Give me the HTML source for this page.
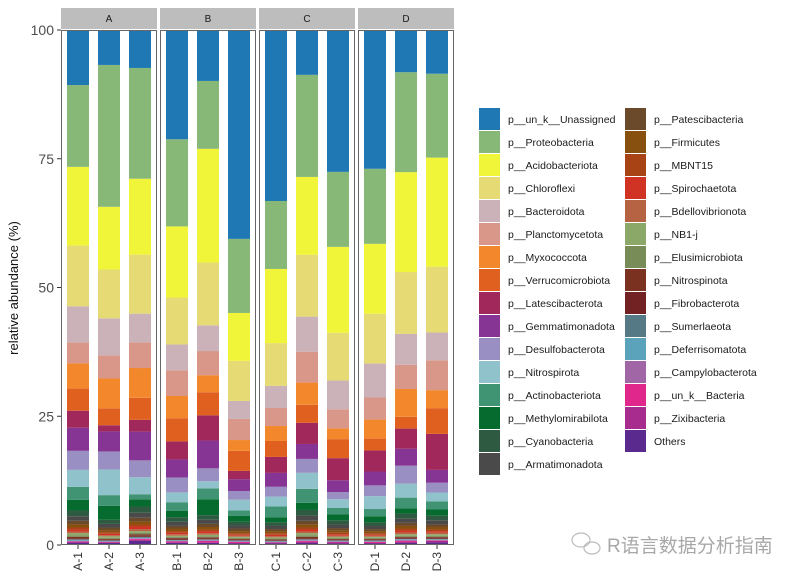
<!DOCTYPE html>
<html><head><meta charset="utf-8"><style>
body{margin:0;background:#fff;}
svg text{font-family:"Liberation Sans","Noto Sans CJK SC",sans-serif;}
</style></head><body>
<svg id="chart" width="804" height="580" xmlns="http://www.w3.org/2000/svg"></svg>
<script>
const samples = ["A-1","A-2","A-3","B-1","B-2","B-3","C-1","C-2","C-3","D-1","D-2","D-3"];
const groups = ["A","B","C","D"];
const yTicks = [0,25,50,75,100];
const phyla = ["p__un_k__Unassigned","p__Proteobacteria","p__Acidobacteriota","p__Chloroflexi","p__Bacteroidota","p__Planctomycetota","p__Myxococcota","p__Verrucomicrobiota","p__Latescibacterota","p__Gemmatimonadota","p__Desulfobacterota","p__Nitrospirota","p__Actinobacteriota","p__Methylomirabilota","p__Cyanobacteria","p__Armatimonadota","p__Patescibacteria","p__Firmicutes","p__MBNT15","p__Spirochaetota","p__Bdellovibrionota","p__NB1-j","p__Elusimicrobiota","p__Nitrospinota","p__Fibrobacterota","p__Sumerlaeota","p__Deferrisomatota","p__Campylobacterota","p__un_k__Bacteria","p__Zixibacteria","Others"];
const colors = ["#1f78b4","#88b878","#f1f53a","#e6da74","#cbb2b9","#d9978a","#f3872b","#e06020","#a0285a","#873594","#9a8fc2","#90c2cc","#409474","#066b2e","#2d5a40","#4a4a4a","#6b4a2b","#87500f","#a84316","#d03224","#b66344","#8ba868","#788c58","#7a3120","#722222","#557a85","#5aa3ba","#a066a6","#e0288c","#a82c8e","#5a2a8e"];
const unassigned = [10.7,6.8,7.4,21.2,9.9,40.6,33.2,8.7,27.6,27.0,8.2,8.5];
const proteobacteria = [15.9,27.6,21.6,16.9,13.2,14.4,13.2,19.8,14.6,14.6,19.4,16.3];
const acidobacteriota = [15.3,12.2,14.8,13.8,22.1,9.3,14.4,15.1,16.7,13.6,19.4,21.2];
const chloroflexi = [11.8,9.5,11.5,9.1,12.2,7.8,8.3,12.0,9.3,9.7,12.0,12.8];
const bacteroidota = [7.0,7.2,5.6,5.0,5.0,3.5,4.3,6.8,5.6,6.6,6.0,5.4];
const planctomycetota = [4.1,4.5,5.0,5.0,4.7,4.1,3.5,6.0,3.7,4.3,4.7,5.8];
const myxococcota = [4.9,5.8,5.8,4.3,3.3,2.1,2.9,4.3,2.1,3.7,5.4,3.5];
const verrucomicrobiota = [4.3,3.3,4.3,4.5,4.5,3.9,3.1,3.5,3.7,2.3,2.3,5.0];
const latescibacterota = [3.3,1.2,2.3,3.5,4.9,1.6,3.1,4.1,4.3,4.1,3.9,7.0];
const gemmatimonadota = [4.5,3.9,5.6,3.5,5.4,2.3,2.7,2.9,2.3,2.7,3.3,2.5];
const desulfobacterota = [3.7,3.5,3.3,2.9,2.5,1.7,1.9,2.7,1.4,2.1,3.5,1.9];
const nitrospirota = [3.3,5.0,3.3,1.9,1.4,2.1,1.9,3.1,1.7,2.5,2.7,1.7];
const actinobacteriota = [2.5,2.1,1.0,1.7,2.1,1.0,2.1,2.7,1.2,1.4,2.1,1.6];
const methylomirabilota = [2.1,2.7,1.4,1.2,3.1,1.2,1.0,1.4,1.2,1.2,1.0,1.2];
const cyanobacteria = [1.1,0.8,1.2,0.9,0.9,0.7,0.7,1.1,0.8,0.7,1.0,0.9];
const armatimonadota = [0.9,0.7,1.0,0.8,0.8,0.6,0.6,1.0,0.7,0.6,0.8,0.8];
const patescibacteria = [0.7,0.5,0.7,0.5,0.6,0.5,0.4,0.7,0.5,0.4,0.6,0.5];
const firmicutes = [0.6,0.4,0.6,0.5,0.5,0.4,0.4,0.6,0.4,0.4,0.5,0.5];
const mbnt15 = [0.4,0.3,0.4,0.3,0.3,0.3,0.3,0.4,0.3,0.3,0.4,0.3];
const spirochaetota = [0.4,0.3,0.5,0.3,0.4,0.2,0.3,0.4,0.3,0.2,0.4,0.3];
const bdellovibrionota = [0.3,0.2,0.4,0.3,0.3,0.2,0.2,0.3,0.2,0.2,0.3,0.3];
const nb1j = [0.4,0.3,0.3,0.2,0.3,0.2,0.2,0.4,0.2,0.2,0.3,0.3];
const elusimicrobiota = [0.3,0.2,0.3,0.2,0.2,0.2,0.2,0.3,0.2,0.2,0.2,0.2];
const nitrospinota = [0.3,0.2,0.3,0.2,0.2,0.2,0.2,0.3,0.2,0.2,0.2,0.2];
const fibrobacterota = [0.2,0.1,0.2,0.2,0.2,0.1,0.1,0.2,0.1,0.1,0.2,0.2];
const sumerlaeota = [0.1,0.1,0.2,0.1,0.1,0.1,0.1,0.1,0.1,0.1,0.1,0.1];
const deferrisomatota = [0.2,0.1,0.1,0.1,0.1,0.1,0.1,0.1,0.1,0.1,0.1,0.1];
const campylobacterota = [0.1,0.1,0.1,0.1,0.1,0.1,0.1,0.1,0.1,0.1,0.2,0.1];
const unkBacteria = [0.1,0.1,0.2,0.2,0.3,0.2,0.1,0.2,0.1,0.2,0.2,0.1];
const zixibacteria = [0.2,0.1,0.2,0.1,0.1,0.1,0.1,0.2,0.2,0.1,0.2,0.3];
const others = [0.4,0.4,0.8,0.4,0.4,0.3,0.3,0.4,0.3,0.3,0.4,0.5];
const series = [unassigned,proteobacteria,acidobacteriota,chloroflexi,bacteroidota,planctomycetota,myxococcota,verrucomicrobiota,latescibacterota,gemmatimonadota,desulfobacterota,nitrospirota,actinobacteriota,methylomirabilota,cyanobacteria,armatimonadota,patescibacteria,firmicutes,mbnt15,spirochaetota,bdellovibrionota,nb1j,elusimicrobiota,nitrospinota,fibrobacterota,sumerlaeota,deferrisomatota,campylobacterota,unkBacteria,zixibacteria,others];

const NS="http://www.w3.org/2000/svg";
const svg=document.getElementById('chart');
function mk(tag,attrs,parent){const e=document.createElementNS(NS,tag);for(const k in attrs)e.setAttribute(k,attrs[k]);(parent||svg).appendChild(e);return e;}
const yTop=30,yBot=545;
function yScale(v){return yBot-(v/100)*(yBot-yTop);}
const panelX=[61,160,259,358],panelW=96,barW=22;
function xCenter(i){const p=Math.floor(i/3),k=i%3;return panelX[p]+6+barW/2+k*(barW+9);}

// panels and strips
groups.forEach((g,p)=>{
  const s=mk('rect',{x:panelX[p],y:8,width:panelW,height:21,fill:'#bdbdbd'});
  
  
  const t=mk('text',{x:panelX[p]+panelW/2,y:22,'text-anchor':'middle','font-size':'10',fill:'#1a1a1a'});
  t.textContent=g;
  
  
});
// bars
samples.forEach((s,i)=>{
  let total=0;series.forEach(a=>total+=a[i]);
  let cum=0;
  for(let j=series.length-1;j>=0;j--){
    const v=series[j][i]/total*100;
    const y1=yScale(cum+v),y0=yScale(cum);
    const r=mk('rect',{x:xCenter(i)-barW/2,y:y1,width:barW,height:Math.max(0,y0-y1),fill:colors[j]});
    
    
    cum+=v;
  }
  const tk=mk('line',{x1:xCenter(i),x2:xCenter(i),y1:yBot,y2:yBot+4,stroke:'#333','stroke-width':1});
  
  
  const lx=xCenter(i)+4,ly=yBot+7;
  const lt=mk('text',{x:lx,y:ly,'text-anchor':'end','font-size':'12',fill:'#333',transform:`rotate(-90 ${lx} ${ly})`});
  lt.textContent=s;
  
  
});
groups.forEach((g,p)=>{
  const b=mk('rect',{x:panelX[p]+0.5,y:yTop+0.5,width:panelW-1,height:yBot-yTop-1,fill:'none',stroke:'#666','stroke-width':1});
  
  
});
// y axis
yTicks.forEach(v=>{
  const l=mk('line',{x1:57,x2:61,y1:yScale(v),y2:yScale(v),stroke:'#333','stroke-width':1});
  
  
  const t=mk('text',{x:54,y:yScale(v)+5,'text-anchor':'end','font-size':'14',fill:'#4d4d4d'});
  t.textContent=v;
  
  
});
const yt=mk('text',{x:18,y:288,'text-anchor':'middle','font-size':'13',fill:'#111',transform:'rotate(-90 18 288)'});
yt.textContent='relative abundance (%)';


// legend
phyla.forEach((n,j)=>{
  const col=j<16?0:1,row=j<16?j:j-16;
  const x=col?625:479,y=108+row*23;
  const k=mk('rect',{x:x,y:y,width:21,height:22,fill:colors[j]});
  
  
  const t=mk('text',{x:x+29,y:y+15,'font-size':'10.5',fill:'#1a1a1a'});
  t.textContent=n;
  
  
});
// watermark
const wm=mk('text',{x:607,y:552,'font-size':'19',fill:'#a8a8a8'});
wm.textContent='R语言数据分析指南';


const ic=mk('g',{fill:'none',stroke:'#bbb','stroke-width':1.2});


mk('ellipse',{cx:581,cy:540,rx:9,ry:7},ic);
mk('ellipse',{cx:592,cy:548,rx:8,ry:6},ic);
</script>
</body></html>
